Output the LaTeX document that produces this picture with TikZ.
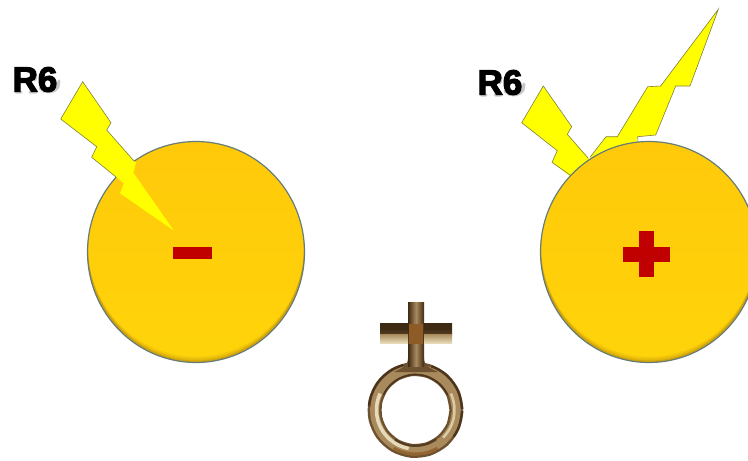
\documentclass[tikz,border=0pt]{standalone}
\usepackage{fontspec}
\newfontfamily\labelfont[FakeBold=3.5]{Liberation Sans Bold}
\usetikzlibrary{calc}
\definecolor{discT}{HTML}{FFC90A}
\definecolor{discB}{HTML}{FFD40A}
\definecolor{discline}{HTML}{667C76}
\definecolor{boltyellow}{HTML}{FFFF00}
\definecolor{boltline}{HTML}{808040}
\definecolor{signred}{HTML}{C00000}
\definecolor{rimshade}{HTML}{8A5A10}
\definecolor{brA}{HTML}{3E2A14}
\definecolor{brB}{HTML}{A98A5C}
\definecolor{brC}{HTML}{E6DAB8}
\definecolor{brD}{HTML}{8E5A26}
\definecolor{brE}{HTML}{6E5230}
\tikzset{
  x=1pt,y=-1pt,
  boltfill/.style={fill=boltyellow},
  boltedge/.style={draw=boltline,line width=.6pt,line join=miter},
  signbar/.style={fill=signred},
  rlabel/.style={font=\labelfont\fontsize{35}{35}\selectfont,text=black,inner sep=0pt,anchor=center},
  softshadow/.style={draw=black,line width=3pt,opacity=.22,line cap=round,line join=round},
  ringarc/.style={smooth,samples=16,line cap=round},
}
\newcommand{\ringpiece}[5]{% colour/opts, width, radius, from, to
  \draw[#1,line width=#2pt] plot[ringarc,domain=#4:#5] ({415.5+#3*cos(\x)},{410+#3*sin(\x)});}
\begin{document}
\begin{tikzpicture}
\useasboundingbox (0,0) rectangle (748,461);
% right bolts (behind disc)
\path[boltfill] (543.3,86)--(571.7,126.7)--(567.3,134.3)--(592,162)--(575,180)--(552,162.3)--(557.3,150.7)--(521.7,122.7)--cycle;
\draw[boltedge] (588.3,158.3)--(567.3,134.3)--(571.7,126.7)--(543.3,86)--(521.7,122.7)--(557.3,150.7)--(552,162.3)--(570,175);
\path[boltfill] (718.3,9.3)--(690,86)--(675.7,86)--(655.7,135)--(637.7,136.7)--(630,170)--(590,157.3)--(606,136.7)--(617.3,136.7)--(647.7,86.7)--(660.7,86)--cycle;
\draw[boltedge] (638,142)--(637.7,136.7)--(655.7,135)--(675.7,86)--(690,86)--(718.3,9.3)--(660.7,86)--(647.7,86.7)--(617.3,136.7)--(606,136.7)--(590,157.3);
% discs
\foreach \cx in {196,649}{
  \begin{scope}
    \clip (\cx,252) ellipse [x radius=108.5,y radius=110.5];
    \shade[top color=discT,bottom color=discB] (\cx-110,140) rectangle (\cx+110,364);
    \foreach \w/\o in {6/.08,4/.14,2/.22}{
      \draw[rimshade,line width=\w pt,opacity=\o] (\cx,247) ellipse [x radius=108+\w/2,y radius=115.5-\w/2];
    }
  \end{scope}
  \draw[discline,line width=1.2pt] (\cx,252) ellipse [x radius=108.5,y radius=110.5];
}
% left bolt (on top of disc)
\path[boltfill] (82.7,81.7)--(111,122.7)--(106.7,130)--(136,163)--(133.3,172.7)--(174,230.7)--(120,193.3)--(124,183.3)--(91.7,157.3)--(96.7,146.7)--(60.7,119)--cycle;
\draw[boltedge] (134,161)--(106.7,130)--(111,122.7)--(82.7,81.7)--(60.7,119)--(96.7,146.7)--(91.7,157.3)--(116,177);
% signs
\path[signbar] (172.7,246.7) rectangle (211.7,259.3);
\path[signbar] (639,230.7) rectangle (654.3,277.3);
\path[signbar] (622.7,246.7) rectangle (670,262.3);
% label shadows
\foreach \sx/\sy in {0/0,465/3}{
  \begin{scope}[shift={(\sx,\sy)}]
    \draw[softshadow] (16,92)--(21,92) (30,92)--(36,92) (36,75)--(35,80);
    \draw[softshadow] (40,88) .. controls (44,93.5) and (54,93.5) .. (58,87)--(59,81);
  \end{scope}
}
% labels
\node[rlabel] (rA) at (35,79.5) {R6};
\node[rlabel] (rB) at (500,82.5) {R6};
% Venus symbol
\ringpiece{brE}{14}{41}{0}{360}
\ringpiece{brB}{9}{41}{0}{360}
\ringpiece{brC}{3.5}{39}{100}{205}
\ringpiece{brC,opacity=.8}{2.5}{39}{-25}{45}
\ringpiece{brA,opacity=.75}{2.5}{46.5}{185}{255}
\ringpiece{brA,opacity=.7}{2.5}{46.5}{290}{395}
\ringpiece{brA,opacity=.65}{2}{36}{55}{125}
\ringpiece{brD,opacity=.8}{3}{44}{60}{120}
\ringpiece{brA,opacity=.7}{1.6}{35.5}{205}{335}
\fill[brE] (408,358) -- (424,358) .. controls (424,366) and (430,368) .. (438,372) -- (394,372) .. controls (402,368) and (408,366) .. (408,358) -- cycle;
\shade[left color=brA,right color=brA,middle color=brB] (408,302) rectangle (424,366);
\shade[top color=brA,bottom color=brA!80!brB,middle color=brA] (380,323) rectangle (408,334);
\shade[top color=brA,bottom color=brA!80!brB,middle color=brA] (424,323) rectangle (452,334);
\shade[top color=brB,bottom color=brC] (380,334) rectangle (408,343);
\shade[top color=brB,bottom color=brC] (424,334) rectangle (452,343);
\fill[brD] (409,324) rectangle (423,344);
\end{tikzpicture}
\end{document}
